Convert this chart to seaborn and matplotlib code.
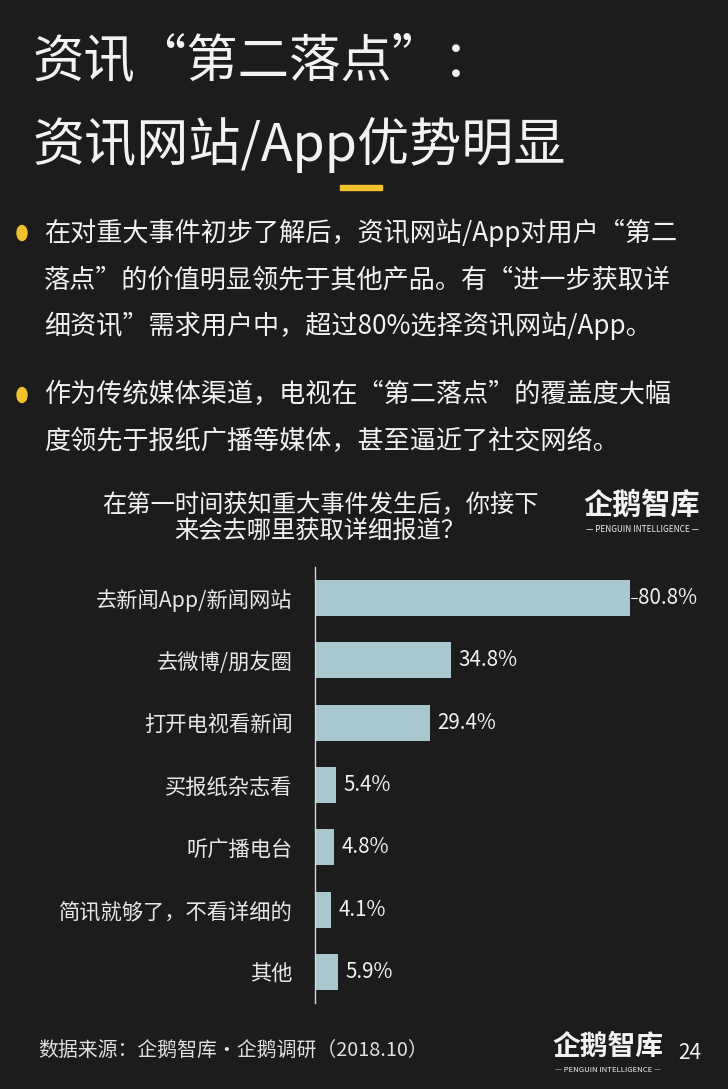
import numpy as np
import pandas as pd
import matplotlib.pyplot as plt
import seaborn as sns

categories = ['去新闻App/新闻网站', '去微博/朋友圈', '打开电视看新闻', '买报纸杂志看',
              '听广播电台', '简讯就够了，不看详细的', '其他']
values = [80.8, 34.8, 29.4, 5.4, 4.8, 4.1, 5.9]

title_lines = ['资讯“第二落点”：', '资讯网站/App优势明显']
bullet1 = ['在对重大事件初步了解后，资讯网站/App对用户“第二',
           '落点”的价值明显领先于其他产品。有“进一步获取详',
           '细资讯”需求用户中，超过80%选择资讯网站/App。']
bullet2 = ['作为传统媒体渠道，电视在“第二落点”的覆盖度大幅',
           '度领先于报纸广播等媒体，甚至逼近了社交网络。']
chart_title = '在第一时间获知重大事件发生后，你接下\n来会去哪里获取详细报道？'
source = '数据来源：企鹅智库·企鹅调研（2018.10）'

sns.set_theme(style='white')
plt.rcParams['font.family'] = ['Noto Sans CJK SC', 'DejaVu Sans']

bg = '#1d1c1c'
bar_color = '#a9c7cf'
txt = '#f2f2f2'
yellow = '#f2c12e'

fig = plt.figure(figsize=(7.28, 10.89), dpi=100)
fig.patch.set_facecolor(bg)

W, H = 728, 1089
def fx(x):
    return x / W
def fy(y):
    return 1 - y / H

# 标题
fig.text(fx(32), fy(62), title_lines[0], fontsize=37, color=txt, va='center', ha='left')
fig.text(fx(32), fy(145), title_lines[1], fontsize=37.5, color=txt, va='center', ha='left')
fig.patches.append(plt.Rectangle((fx(340), fy(190)), fx(42), 5 / H, color=yellow,
                                 transform=fig.transFigure, figure=fig))

# 要点
for lines, y0 in [(bullet1, 233), (bullet2, 395)]:
    fig.patches.append(plt.Circle((fx(22), fy(y0)), 5 / W, color=yellow,
                                  transform=fig.transFigure, figure=fig))
    for i, line in enumerate(lines):
        fig.text(fx(44), fy(y0 + i * 46.5), line, fontsize=18.8, color=txt,
                 va='center', ha='left')

fig.text(fx(320), fy(518), chart_title, fontsize=17.5, color=txt, va='center',
         ha='center', linespacing=0.95)

# logo
def logo(x, y, size):
    fig.text(fx(x), fy(y), '企鹅智库', fontsize=size, color=txt, va='center',
             ha='center', fontweight='bold')
    fig.text(fx(x), fy(y + size * 1.15), '— PENGUIN INTELLIGENCE —', fontsize=size * 0.28,
             color=txt, va='center', ha='center')

logo(642, 505, 21)
logo(608, 1047, 20)
fig.text(fx(690), fy(1053), '24', fontsize=15, color=txt, va='center', ha='center')
fig.text(fx(38), fy(1050), source, fontsize=14.3, color='#e0e0e0', va='center', ha='left')

# 条形图
df = pd.DataFrame({'category': categories, 'value': values})
ax = fig.add_axes([fx(315), fy(1003), fx(728 - 315), 436 / H])
ax.set_facecolor(bg)
sns.barplot(data=df, y='category', x='value', orient='h', color=bar_color,
            width=0.58, saturation=1, linewidth=0, ax=ax)
ax.set_xlim(0, 413 / 3.9)
ax.set_ylim(6.5, -0.5)
for i, v in enumerate(values):
    ax.text(v + 2.0, i, f'{v}%', color=txt, fontsize=14.8, va='center', ha='left')
# 第一条数据标签前的短引线
ax.plot([values[0] + 0.3, values[0] + 1.7], [0, 0], color=txt, lw=0.8)
ax.set_xlabel('')
ax.set_ylabel('')
ax.set_xticks([])
ax.tick_params(axis='y', length=0, pad=16, labelsize=15.3, labelcolor='#e8e8e8')
for s in ['top', 'right', 'bottom']:
    ax.spines[s].set_visible(False)
ax.spines['left'].set_color('#d8d8d8')
ax.spines['left'].set_linewidth(1)

fig.savefig('out.png', dpi=100, facecolor=bg)
